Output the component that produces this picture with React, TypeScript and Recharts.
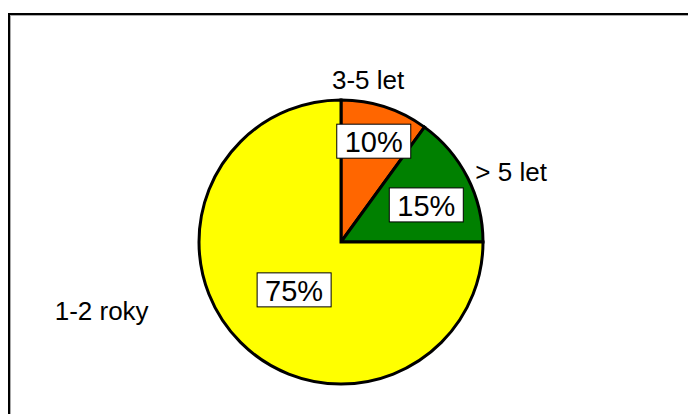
import { PieChart, Pie, Cell } from 'recharts'

const categories = ['3-5 let', '> 5 let', '1-2 roky']
const shares = [10, 15, 75]
const pctLabels = ['10%', '15%', '75%']

const COLORS = ['#ff6600', '#008000', '#ffff00']
const FONT = '"Liberation Sans", Arial, sans-serif'
const RAD = Math.PI / 180

// label placement relative to each slice's mid angle (deg shift, radius px)
const PCT_POS = [
  { a: 0, r: 106 },
  { a: -3.5, r: 93 },
  { a: 0.6, r: 67 },
]
const NAME_POS = [
  { a: 8.5, r: 164 },
  { a: -4.6, r: 184 },
  { a: -29, r: 249 },
]

const data = categories.map((name, i) => ({ name, value: shares[i], pct: pctLabels[i] }))

function renderLabel(props: any) {
  const { cx, cy, midAngle, index } = props
  const p = PCT_POS[index]
  const n = NAME_POS[index]
  const pa = (midAngle + p.a) * RAD
  const na = (midAngle + n.a) * RAD
  const px = cx + p.r * Math.cos(pa)
  const py = cy - p.r * Math.sin(pa)
  const nx = cx + n.r * Math.cos(na)
  const ny = cy - n.r * Math.sin(na)
  const w = 74
  const h = 34
  return (
    <g>
      <rect x={px - w / 2} y={py - h / 2} width={w} height={h} fill="#fff" stroke="#000" strokeWidth={1} />
      <text x={px} y={py + 1} textAnchor="middle" dominantBaseline="central" fontSize={29} fontFamily={FONT} fill="#000">
        {pctLabels[index]}
      </text>
      <text x={nx} y={ny} textAnchor="middle" dominantBaseline="central" fontSize={26} fontFamily={FONT} fill="#000">
        {categories[index]}
      </text>
    </g>
  )
}

export default function App() {
  return (
    <div
      style={{
        marginTop: 5,
        width: 686,
        height: 420,
        borderTop: '2px solid #000',
        borderLeft: '2px solid #000',
        boxShadow: 'inset 1px 1px 0 #aaa',
        background: '#fff',
      }}
    >
      <style>{'html,body{overflow:hidden}'}</style>
      <PieChart width={686} height={420} margin={{ top: 0, right: 0, bottom: 0, left: 0 }}>
        <Pie
          data={data}
          dataKey="value"
          nameKey="name"
          cx={331}
          cy={227}
          outerRadius={142}
          startAngle={90}
          endAngle={-270}
          stroke="#000"
          strokeWidth={3}
          label={renderLabel}
          labelLine={false}
          isAnimationActive={false}
        >
          {data.map((_, i) => (
            <Cell key={i} fill={COLORS[i]} />
          ))}
        </Pie>
      </PieChart>
    </div>
  )
}
